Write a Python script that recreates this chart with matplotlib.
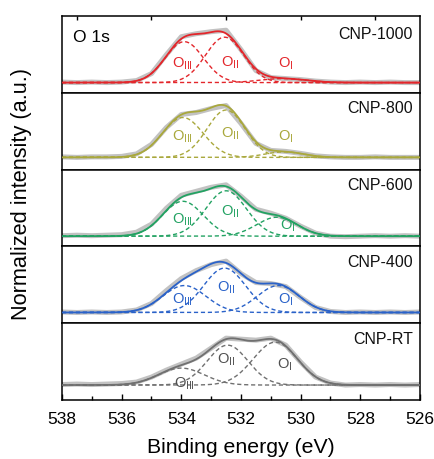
import numpy as np
import matplotlib
matplotlib.use("Agg")
import matplotlib.pyplot as plt

plt.rcParams['font.family'] = ['Liberation Sans', 'DejaVu Sans']
plt.rcParams['mathtext.fontset'] = 'custom'
plt.rcParams['mathtext.rm'] = 'Liberation Sans'
plt.rcParams['mathtext.it'] = 'Liberation Sans'

# ---------------- data ----------------
energy = [538.0, 537.5, 537.0, 536.5, 536.0, 535.5, 535.0, 534.5, 534.0, 533.5,
          533.0, 532.5, 532.0, 531.5, 531.0, 530.5, 530.0, 529.5, 529.0, 528.5,
          528.0, 527.5, 527.0, 526.5, 526.0]

samples = ["CNP-1000", "CNP-800", "CNP-600", "CNP-400", "CNP-RT"]
colors = ["#e3262b", "#a9a83c", "#22a262", "#2a62c9", "#707070"]
label_colors = ["#e3262b", "#a9a83c", "#22a262", "#2a62c9", "#505050"]

meas_1000 = [0.01, 0, 0.01, 0, 0.01, 0.04, 0.18, 0.56, 0.92, 0.98, 1.02, 1.05, 0.66,
             0.24, 0.10, 0.08, 0.06, 0.03, 0.01, 0, 0.01, 0, 0.01, 0, 0]
meas_800 = [0.01, 0, 0.01, 0.01, 0.02, 0.07, 0.26, 0.6, 0.86, 0.9, 0.98, 1.04, 0.68,
            0.28, 0.14, 0.12, 0.08, 0.03, 0.01, 0, 0, 0.01, 0, 0, 0]
meas_600 = [0.01, 0.02, 0.01, 0.02, 0.03, 0.08, 0.24, 0.56, 0.82, 0.9, 0.98, 1.03, 0.8,
            0.54, 0.46, 0.36, 0.2, 0.06, 0, -0.01, 0, 0.01, 0, 0.01, 0]
meas_400 = [0.01, 0, 0.01, 0, 0.01, 0.05, 0.18, 0.44, 0.68, 0.84, 0.96, 1.03, 0.78,
            0.6, 0.58, 0.52, 0.3, 0.1, 0.02, 0, 0.01, 0, 0.01, 0, 0.01]
meas_rt = [0.01, 0.02, 0.01, 0.02, 0.03, 0.06, 0.16, 0.3, 0.42, 0.54, 0.74, 0.94, 0.92,
           0.9, 0.94, 0.8, 0.46, 0.16, 0.04, 0, 0.01, 0, 0.01, 0, 0.01]
measured = [meas_1000, meas_800, meas_600, meas_400, meas_rt]

# background level of each spectrum
background = [-0.03, 0.01, -0.03, -0.02, 0.065]

# fitted components: (O_III, O_II, O_I) centre (eV), height, FWHM (eV)
centres = [[533.9, 532.55, 530.6], [533.95, 532.5, 530.55], [533.95, 532.5, 530.8],
           [533.9, 532.55, 530.75], [534.0, 532.45, 530.85]]
heights = [[0.82, 0.91, 0.08], [0.80, 0.95, 0.11], [0.70, 0.91, 0.38],
           [0.54, 0.89, 0.54], [0.34, 0.80, 0.86]]
fwhms = [[1.5, 1.5, 1.8], [1.6, 1.5, 1.5], [1.6, 1.6, 1.6],
         [1.7, 1.65, 1.65], [1.8, 1.6, 1.75]]

comp_names = [r"O$_{\mathrm{III}}$", r"O$_{\mathrm{II}}$", r"O$_{\mathrm{I}}$"]
# label anchors (energy, intensity) for each component label
label_pos = [[(533.95, 0.38), (532.35, 0.40), (530.5, 0.38)],
             [(533.95, 0.42), (532.35, 0.48), (530.5, 0.42)],
             [(533.95, 0.32), (532.35, 0.49), (530.45, 0.20)],
             [(533.95, 0.26), (532.5, 0.49), (530.5, 0.26)],
             [(533.9, 0.02), (532.5, 0.50), (530.55, 0.40)]]

# ---------------- plot ----------------
W, H = 435, 459
fig = plt.figure(figsize=(W / 100, H / 100), dpi=100)
left_px, right_px, top_px, panel_h = 62, 420, 16, 76.8

E_fine = np.linspace(538, 526, 600)


def gauss(x, c, h, f):
    s = f / 2.3548
    return h * np.exp(-(x - c) ** 2 / (2 * s * s))


axes = []
for i, name in enumerate(samples):
    y0 = 1 - (top_px + (i + 1) * panel_h) / H
    ax = fig.add_axes([left_px / W, y0, (right_px - left_px) / W, panel_h / H])
    axes.append(ax)
    bg = background[i]
    col = colors[i]

    ax.plot(energy, np.array(measured[i]) + bg, color="#c2c2c2", lw=3.6,
            solid_capstyle="round", solid_joinstyle="round", zorder=1)

    total = np.zeros_like(E_fine)
    for c, h, f in zip(centres[i], heights[i], fwhms[i]):
        comp = gauss(E_fine, c, h, f)
        total += comp
        ax.plot(E_fine, comp + bg, color=col, lw=1.0, ls=(0, (3, 2)), zorder=2)
    ax.plot(E_fine, total + bg, color=col, lw=1.3, zorder=3)

    for (ex, ey), lab in zip(label_pos[i], comp_names):
        ax.text(ex, ey + bg, lab, color=label_colors[i], fontsize=10.5,
                ha="center", va="center", zorder=4)

    ax.text(0.98, 0.79 if i else 0.755, name, transform=ax.transAxes, ha="right",
            va="center", fontsize=11.5, color="#111111")

    ax.set_xlim(538, 526)
    ax.set_ylim(-0.235, 1.305)
    ax.set_yticks([])
    for sp in ax.spines.values():
        sp.set_linewidth(1.1)
    if i == 0:
        ax.text(0.03, 0.72, "O 1s", transform=ax.transAxes, ha="left",
                va="center", fontsize=12.5)
        ax.xaxis.set_ticks_position("top")
        ax.set_xticks([537.5, 535, 532.5, 530, 527.5])
        ax.tick_params(axis="x", direction="in", length=3, width=1.0,
                       labeltop=False, labelbottom=False)
    elif i == len(samples) - 1:
        ax.set_xticks([538, 536, 534, 532, 530, 528, 526])
        ax.set_xticks([537, 535, 533, 531, 529, 527], minor=True)
        ax.tick_params(axis="x", which="major", direction="in", length=4.5,
                       width=1.0, labelsize=12.5, pad=8.5)
        ax.tick_params(axis="x", which="minor", direction="in", length=2.7,
                       width=1.0)
    else:
        ax.set_xticks([])

fig.text((left_px + right_px) / 2 / W, 2 / H, "Binding energy (eV)",
         ha="center", va="bottom", fontsize=15.3)
fig.text(22 / W, 1 - 194 / H, "Normalized intensity (a.u.)", rotation=90,
         ha="center", va="center", fontsize=15.7)

fig.savefig("out.png", dpi=100)
